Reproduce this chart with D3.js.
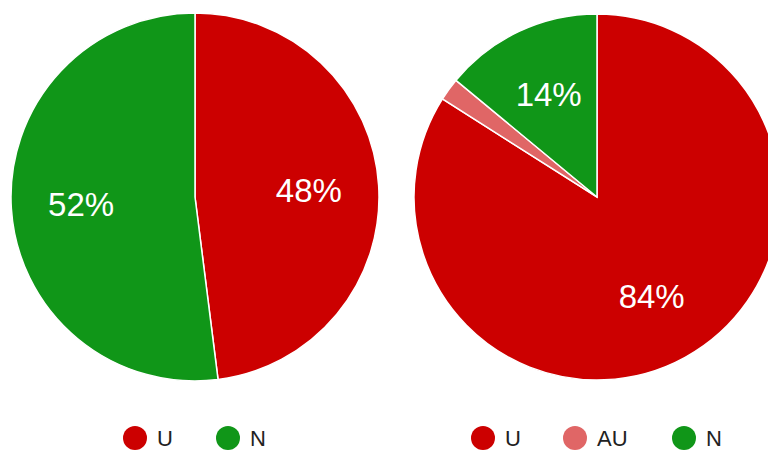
<!DOCTYPE html>
<html>
<head>
<meta charset="utf-8">
<script src="https://cdn.jsdelivr.net/npm/d3@7"></script>
<style>
  html, body { margin: 0; padding: 0; background: #fff; overflow: hidden; }
  text { font-family: Arial, "Liberation Sans", sans-serif; }
</style>
</head>
<body>
<div class="charts"></div>
<script>
// left chart
var leftLabels = ["U", "N"];
var leftValues = [48, 52];
var leftColors = ["#cc0000", "#109618"];

// right chart
var rightLabels = ["U", "AU", "N"];
var rightValues = [84, 2, 14];
var rightColors = ["#cc0000", "#e06666", "#109618"];

var w = 768;
var h = 450;

const svg = d3.select(".charts")
    .append("svg")
    .attr("width", w)
    .attr("height", h);

function drawPie(cx, cy, radius, labels, values, colors, legendX) {
    var color = d3.scaleOrdinal().domain(labels).range(colors);
    var pie = d3.pie().sort(null).value(d => d.value);
    var data = labels.map((l, i) => ({ label: l, value: values[i] }));
    var arcs = pie(data);

    var arc = d3.arc().innerRadius(0).outerRadius(radius);
    var labelArc = d3.arc().innerRadius(radius * 0.62).outerRadius(radius * 0.62);
    var total = d3.sum(values);

    var g = svg.append("g")
        .attr("transform", "translate(" + cx + "," + cy + ")");

    g.selectAll("path")
        .data(arcs)
        .enter()
        .append("path")
        .attr("d", arc)
        .attr("fill", d => color(d.data.label))
        .attr("stroke", "#fff")
        .attr("stroke-width", 1.5);

    g.selectAll("text")
        .data(arcs.filter(d => d.data.value / total >= 0.05))
        .enter()
        .append("text")
        .attr("transform", d => "translate(" + labelArc.centroid(d) + ")")
        .attr("text-anchor", "middle")
        .attr("dy", "0.36em")
        .attr("fill", "#fff")
        .style("font-size", "33px")
        .text(d => Math.round(d.value / total * 100) + "%");

    // legend
    var leg = svg.append("g");
    var items = leg.selectAll("g")
        .data(labels)
        .enter()
        .append("g")
        .attr("transform", (d, i) => "translate(" + legendX[i] + ",438)");

    items.append("circle")
        .attr("r", 12)
        .attr("fill", d => color(d));

    items.append("text")
        .attr("x", 22)
        .attr("dy", "0.36em")
        .attr("fill", "#222")
        .style("font-size", "22px")
        .text(d => d);
}

drawPie(195, 197, 184, leftLabels, leftValues, leftColors, [135, 228]);
drawPie(597, 197, 183, rightLabels, rightValues, rightColors, [483, 575, 684]);
</script>
</body>
</html>
